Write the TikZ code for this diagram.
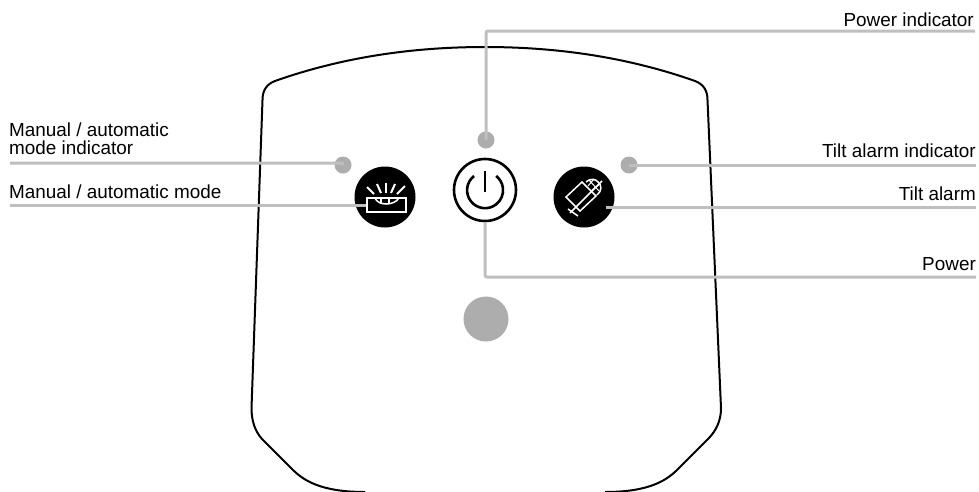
\documentclass[tikz,border=0pt]{standalone}
\usepackage{fontspec}
\setmainfont{Liberation Sans}
\begin{document}
\begin{tikzpicture}[x=1pt, y=-1pt, leader/.style={draw=black!25, line width=3pt, rounded corners=2pt}, led/.style={circle, fill=black!32, minimum size=17pt, inner sep=0pt}, keyblack/.style={circle, fill=black, minimum size=61pt, inner sep=0pt}, label/.style={inner sep=0pt, font=\fontsize{18.9}{19}\selectfont}, icon/.style={draw=white, line width=1.5pt}]
\useasboundingbox (0,0) rectangle (979,491);
% housing
\draw[line width=2pt] (365,492) .. controls (320,492) and (303,480) .. (292,469) -- (262,439) .. controls (255,431) and (251.5,421) .. (251.5,408) -- (262.5,100) .. controls (262.5,90) and (267,84) .. (275,81) .. controls (340,58) and (410,47) .. (485,47) .. controls (560,47) and (630,58) .. (695,81) .. controls (703,84) and (707.5,90) .. (707.5,100) -- (721,408) .. controls (721,421) and (716,431) .. (708,439) -- (678,469) .. controls (667,480) and (650,492) .. (605,492);
% keys and lamps
\node[keyblack] (mode) at (385,197) {};
\node[keyblack] (tilt) at (584,197) {};
\node[circle, draw, line width=2.6pt, minimum size=62pt, inner sep=0pt] (power) at (485,190) {};
\node[led] (modeled) at (343,165) {};
\node[led] (powerled) at (486,140) {};
\node[led] (tiltled) at (629,165) {};
\node[circle, fill=black!32, minimum size=45pt, inner sep=0pt] (sensor) at (486,319) {};
% free ends of the leaders
\coordinate (modeledend) at (10,163);
\coordinate (modeend) at (10,205);
\coordinate (powerledend) at (975,31);
\coordinate (tiltledend) at (976,165);
\coordinate (tiltend) at (976,207);
\coordinate (powerend) at (976,277);
\draw[leader] (modeled.center) -- (modeled.center |- modeledend) -- (modeledend);
\draw[leader] (367,205) -- (modeend);
\draw[leader] (powerled.center) |- (powerledend);
\draw[leader] (tiltled.center) -- (tiltledend);
\draw[leader] (606,207) -- (tiltend);
\draw[leader] (power.south) |- (powerend);
% power symbol
\draw[line width=2.6pt] (474,176) arc[start angle=232, end angle=-52, radius=18];
\draw[line width=2.6pt] (485,171) -- (485,192);
% mode symbol
\foreach \xa/\ya/\xb/\yb in {367/187/374/194, 377/184/381/193, 386/183/386/193, 395/184/391/193, 405/186/397/194}
  \draw[icon, line width=2pt] (\xa,\ya) -- (\xb,\yb);
\draw[icon] (375,198) .. controls (378,206) and (394,206) .. (399,198);
\draw[icon] (381,198) -- (381,204) (389,198) -- (389,204);
\draw[icon, line width=2pt] (367,198) rectangle (406,212);
% tilt symbol
\draw[icon] (566,197) -- (582,182) -- (596,196) -- (580,211) -- cycle;
\draw[icon] (570,213) -- (602,181);
\draw[icon] (568,209) -- (578,216);
\draw[icon] (586,182) .. controls (590,178) and (596,179) .. (598,182) .. controls (602,185) and (602,191) .. (597,195);
\draw[icon, line width=1pt] (588,186) -- (594,179) (592,190) -- (600,184) (589,180) -- (599,191);
% labels
\node[label, anchor=base west] (modeledtext) at (9,136) {Manual / automatic};
\node[label, anchor=base west] (modeledtext2) at (9,154) {mode indicator};
\node[label, anchor=base west] (modetext) at (9,198) {Manual / automatic mode};
\node[label, anchor=base east] (powerledtext) at (974,26) {Power indicator};
\node[label, anchor=base east] (tiltledtext) at (976,157) {Tilt alarm indicator};
\node[label, anchor=base east] (tilttext) at (976,200) {Tilt alarm};
\node[label, anchor=base east] (powertext) at (976,270) {Power};
\end{tikzpicture}
\end{document}
